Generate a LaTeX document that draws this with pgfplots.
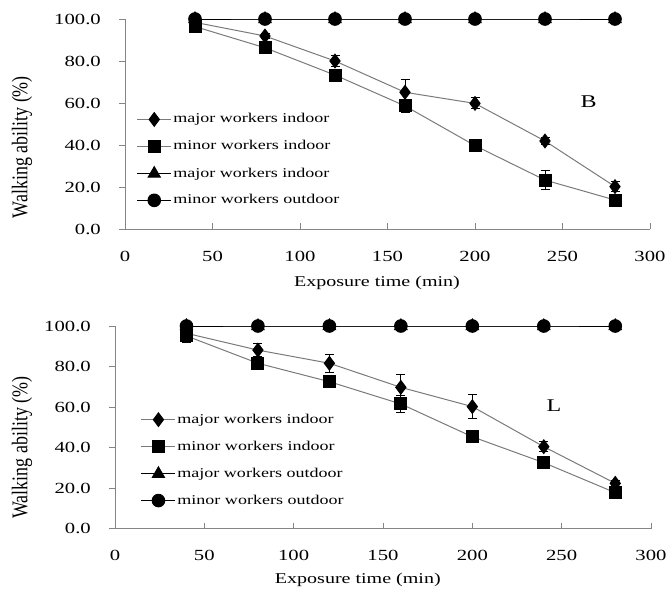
\documentclass[border=0pt]{standalone}
\usepackage{fontspec}
\setmainfont{Liberation Serif}[FakeStretch=1.34]
\newfontfamily\ylabfont{Liberation Serif}
\usepackage{pgfplots}
\pgfplotsset{compat=1.18}
\usepackage{pgfplotstable}

\definecolor{linegray}{HTML}{7A7A7A}
\definecolor{axisgray}{HTML}{858585}

% panel B
\pgfplotstableread{
x y ey
40 98.4 0.8
80 91.9 1.0
120 80.0 2.8
160 65.1 5.9
200 59.8 2.6
240 41.9 1.5
280 20.2 2.5
}\Bmajin
\pgfplotstableread{
x y ey
40 96.4 0.8
80 86.3 1.0
120 73.3 1.5
160 58.6 3.3
200 39.7 3.0
240 23.3 4.4
280 13.8 1.0
}\Bminin
% panel L
\pgfplotstableread{
x y ey
40 96.4 1.5
80 88.1 3.3
120 81.6 4.4
160 69.7 6.2
200 60.2 5.8
240 40.4 2.5
280 22.3 1.5
}\Lmajin
\pgfplotstableread{
x y ey
40 95.1 3.0
80 81.6 2.9
120 72.5 3.0
160 61.5 4.0
200 45.3 2.5
240 32.5 1.0
280 17.7 2.0
}\Lminin
\pgfplotstableread{
x y
40 100
80 100
120 100
160 100
200 100
240 100
280 100
}\outdoor

\newcommand{\ylab}{{\ylabfont\fontsize{18}{20}\selectfont Walking ability (\%)}}

\pgfplotsset{
  walk/.style={
    scale only axis, clip=false,
    xmin=0, xmax=300, ymin=0, ymax=100,
    xtick={0,50,...,300}, ytick={0,20,...,100},
    axis x line=bottom, axis y line=left,
    axis line style={axisgray, line width=1bp, -},
    major tick style={axisgray, line width=1bp},
    major tick length=6bp,
    xtick align=inside, ytick align=outside,
    /pgf/number format/assume math mode=true,
    tick label style={font=\fontsize{15.5}{18}\selectfont, black},
    yticklabel style={/pgf/number format/fixed, /pgf/number format/fixed zerofill, /pgf/number format/precision=1,
      anchor=east, inner xsep=0pt, xshift=-18bp},
    xticklabel style={anchor=center, yshift=-27bp},
    xlabel style={font=\fontsize{15}{17}\selectfont, anchor=center},
    ylabel style={anchor=center, rotate=0, yscale=1.25},
    legend style={draw=none, fill=none, anchor=north west, inner sep=0pt,
      font=\fontsize{13.5}{15}\selectfont, row sep=13.7bp,
      nodes={text height=10bp, text depth=3bp, inner ysep=0pt, inner xsep=1.5bp}},
    legend cell align=left,
    legend image code/.code={\draw[mark repeat=2,mark phase=2,##1] plot coordinates {(0bp,0bp) (17bp,0bp) (34bp,0bp)};},
    error bars/error bar style={black, line width=1bp},
    error bars/error mark options={rotate=90, mark size=4.5bp, line width=1bp, black},
  },
  majin/.style={linegray, line width=1bp, mark=diamond*, mark size=6.8bp, mark options={black, fill=black}},
  minin/.style={linegray, line width=1bp, mark=square*, mark size=6bp, mark options={black, fill=black}},
  majout/.style={black, line width=1bp, mark=triangle*, mark size=7bp, mark options={black, fill=black}},
  minout/.style={black, line width=1bp, mark=*, mark size=6.3bp, mark options={black, fill=black}},
}

\begin{document}
\begin{tikzpicture}
\useasboundingbox (0,0) rectangle (667bp,-589bp);

\begin{axis}[walk,
  at={(125bp,-229bp)}, anchor=south west,
  width=525bp, height=210bp,
  xlabel={Exposure time (min)},
  ylabel={\ylab},
  xlabel style={at={(axis description cs:0.48,-0.257)}},
  ylabel style={at={(axis description cs:-0.196,0.39)}},
  legend style={at={(axis description cs:0.022,0.555)}},
  ]
  \addplot[majin] plot[error bars/.cd, y dir=both, y explicit] table[x=x, y=y, y error=ey] {\Bmajin};
  \addplot[minin] plot[error bars/.cd, y dir=both, y explicit] table[x=x, y=y, y error=ey] {\Bminin};
  \addplot[majout] table[x=x, y=y] {\outdoor};
  \addplot[minout] table[x=x, y=y] {\outdoor};
  \legend{major workers indoor, minor workers indoor, major workers indoor, minor workers outdoor}
  \node[font=\fontsize{18}{20}\selectfont] at (axis cs:265,60.5) {B};
\end{axis}

\begin{axis}[walk,
  at={(115bp,-528.5bp)}, anchor=south west,
  width=536bp, height=202.5bp,
  xlabel={Exposure time (min)},
  ylabel={\ylab},
  xlabel style={at={(axis description cs:0.453,-0.254)}},
  ylabel style={at={(axis description cs:-0.1735,0.40)}},
  legend style={at={(axis description cs:0.048,0.572)}},
  ]
  \addplot[majin] plot[error bars/.cd, y dir=both, y explicit] table[x=x, y=y, y error=ey] {\Lmajin};
  \addplot[minin] plot[error bars/.cd, y dir=both, y explicit] table[x=x, y=y, y error=ey] {\Lminin};
  \addplot[majout] table[x=x, y=y] {\outdoor};
  \addplot[minout] table[x=x, y=y] {\outdoor};
  \legend{major workers indoor, minor workers indoor, major workers outdoor, minor workers outdoor}
  \node[font=\fontsize{18}{20}\selectfont] at (axis cs:245.7,60.5) {L};
\end{axis}
\end{tikzpicture}
\end{document}
